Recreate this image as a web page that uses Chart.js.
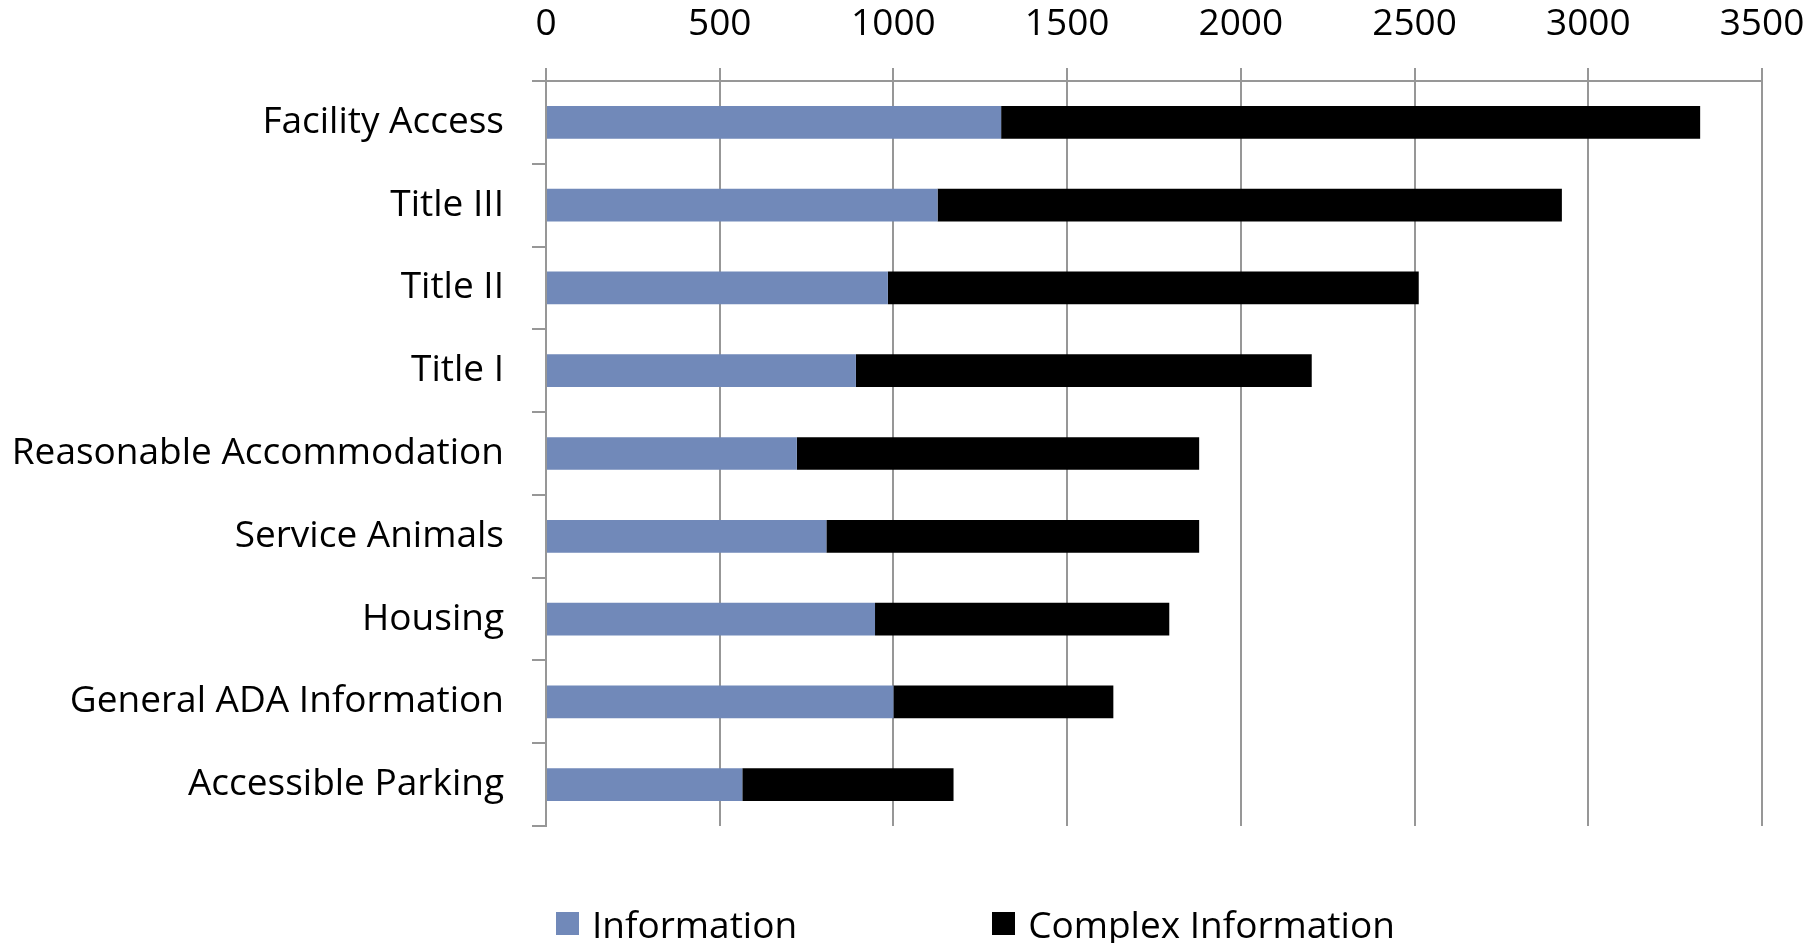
<!DOCTYPE html>
<html>
<head>
<meta charset="utf-8">
<script src="https://cdn.jsdelivr.net/npm/chart.js@4/dist/chart.umd.min.js"></script>
<style>
  html, body { margin: 0; padding: 0; background: #fff; }
  #wrap { position: relative; width: 1817px; height: 943px; }
  #legend {
    position: absolute; left: 556px; top: 903px; height: 40px;
    display: flex; align-items: center;
    font-family: "Open Sans", sans-serif; font-size: 37px; color: #000;
  }
  #legend .item { display: flex; align-items: center; margin-right: 195px; }
  #legend .box { width: 23px; height: 23px; margin-right: 13px; }
</style>
</head>
<body>
<div id="wrap">
  <canvas id="chart"></canvas>
  <div id="legend"></div>
</div>
<script>
const categories = [
    "Facility Access",
    "Title III",
    "Title II",
    "Title I",
    "Reasonable Accommodation",
    "Service Animals",
    "Housing",
    "General ADA Information",
    "Accessible Parking"
];
const information = [1310, 1127, 984, 892, 722, 807, 947, 1000, 565];
const complexInformation = [2012, 1797, 1528, 1312, 1158, 1073, 847, 633, 608];
const xMax = 3500;
const xStep = 500;

const font = { family: "'Open Sans', sans-serif", size: 37 };
const gridColor = '#979797';

const graph = new Chart("chart", {
    type: "bar",
    data: {
        labels: categories,
        datasets: [
            {
                label: "Information",
                data: information,
                backgroundColor: '#7189b9',
                categoryPercentage: 1,
                barPercentage: 0.395,
            },
            {
                label: "Complex Information",
                data: complexInformation,
                backgroundColor: '#000000',
                categoryPercentage: 1,
                barPercentage: 0.395,
            }
        ]
    },
    options: {
        indexAxis: 'y',
        responsive: true,
        maintainAspectRatio: false,
        animation: false,
        layout: {
            padding: { left: 0, right: 55, top: 0, bottom: 117 }
        },
        plugins: {
            legend: { display: false },
            tooltip: { enabled: false },
        },
        scales: {
            x: {
                position: 'top',
                stacked: true,
                min: 0,
                max: xMax,
                ticks: {
                    stepSize: xStep,
                    color: '#000',
                    font: font,
                    padding: 21,
                    callback: value => String(value),
                },
                grid: {
                    color: gridColor,
                    lineWidth: 2,
                    tickLength: 13,
                },
                border: { color: gridColor, width: 2 },
                afterFit: function (scale) {
                    scale.height = 81;
                    scale.paddingLeft = 0;
                    scale.paddingRight = 0;
                }
            },
            y: {
                stacked: true,
                ticks: {
                    color: '#000',
                    font: font,
                    padding: 28,
                },
                grid: {
                    drawOnChartArea: false,
                    color: gridColor,
                    lineWidth: 2,
                    tickLength: 14,
                },
                border: { color: gridColor, width: 2 },
                afterFit: function (scale) { scale.width = 546; }
            }
        }
    },
});

// legend in html, built from the datasets
const legend = document.getElementById("legend");
graph.data.datasets.forEach(ds => {
    const item = document.createElement("div");
    item.className = "item";
    const box = document.createElement("span");
    box.className = "box";
    box.style.background = ds.backgroundColor;
    const text = document.createElement("span");
    text.textContent = ds.label;
    item.appendChild(box);
    item.appendChild(text);
    legend.appendChild(item);
});
</script>
</body>
</html>
